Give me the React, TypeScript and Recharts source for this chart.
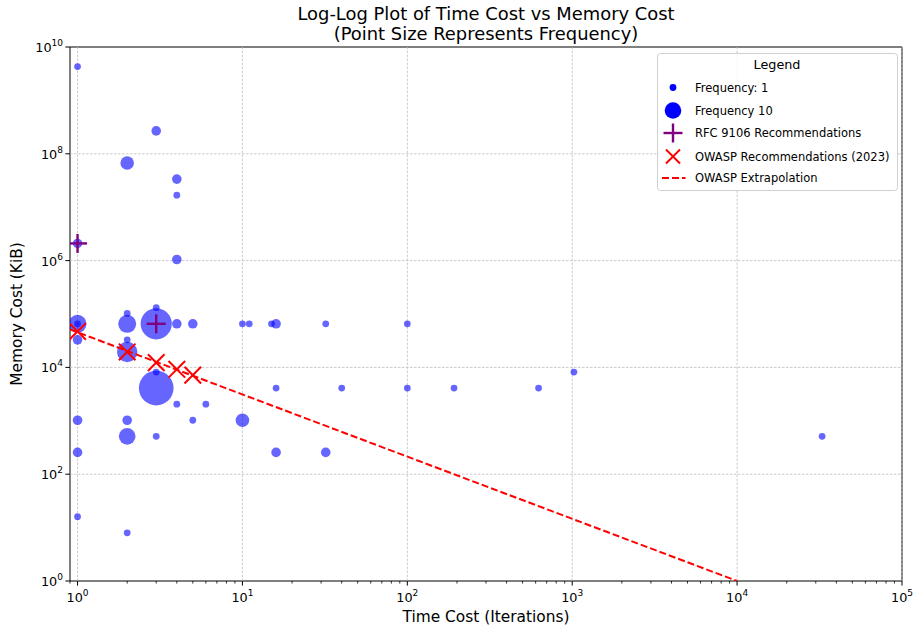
import React from "react"
import {
  ScatterChart,
  Scatter,
  XAxis,
  YAxis,
  ZAxis,
  ReferenceLine,
  ReferenceArea,
} from "recharts"

// observed parameter sets: time cost (iterations), memory cost (KiB), how often seen
const timeCost = [
  1, 3, 2, 4, 4, 1, 4, 2, 3, 1, 2, 3, 4, 5, 10, 11, 15, 16, 32, 100, 1, 1, 2, 2,
  3, 3, 16, 40, 100, 192, 625, 1024, 4, 6, 1, 2, 5, 10, 2, 3, 1, 16, 32, 1, 2, 32768,
]
const memoryCost = [
  4294967296, 268435456, 67108864, 33554432, 16777216, 2097152, 1048576, 102400,
  131072, 65536, 65536, 65536, 65536, 65536, 65536, 65536, 65536, 65536, 65536,
  65536, 65536, 32768, 32768, 19456, 8192, 4096, 4096, 4096, 4096, 4096, 4096,
  8192, 2048, 2048, 1024, 1024, 1024, 1024, 512, 512, 256, 256, 256, 16, 8, 512,
]
const frequency = [
  1, 2, 4, 2, 1, 2, 2, 1, 1, 7, 7, 21, 2, 2, 1, 1, 1, 2, 1, 1, 1, 2, 1, 9, 1, 26,
  1, 1, 1, 1, 1, 1, 1, 1, 2, 2, 1, 4, 6, 1, 2, 2, 2, 1, 1, 1,
]

const rfcTime = [1, 3]
const rfcMemory = [2097152, 65536]

const owaspTime = [1, 2, 3, 4, 5]
const owaspMemory = [47104, 19456, 12288, 9216, 7168]

const extrapTime = [0.9, 10000]
const extrapMemory = [51500, 1]

const xMajor = [1, 10, 100, 1000, 10000, 100000]
const xMinor = [0.9, 2, 3, 4, 5, 6, 7, 8, 9, 20, 30, 40, 50, 60, 70, 80, 90, 200, 300, 400, 500, 600, 700, 800, 900, 2000, 3000, 4000, 5000, 6000, 7000, 8000, 9000, 20000, 30000, 40000, 50000, 60000, 70000, 80000, 90000]
const yTicks = [1, 1e2, 1e4, 1e6, 1e8, 1e10]
const yGrid = [1e2, 1e4, 1e6, 1e8]

const points = timeCost.map((t, i) => ({ x: t, y: memoryCost[i], freq: frequency[i] }))
const rfc = rfcTime.map((t, i) => ({ x: t, y: rfcMemory[i] }))
const owasp = owaspTime.map((t, i) => ({ x: t, y: owaspMemory[i] }))
const extrap = extrapTime.map((t, i) => ({ x: t, y: extrapMemory[i] }))

const FONT = "'DejaVu Sans', sans-serif"
const GRID = "#bdbdbd"

const isMajor = (v: number) => Math.abs(Math.log10(v) - Math.round(Math.log10(v))) < 1e-6

const XTick = (props: any) => {
  const { x, y, payload } = props
  const v = payload.value
  const major = isMajor(v)
  return (
    <g>
      <line x1={x} x2={x} y1={y} y2={y + (major ? 4.6 : 2.6)} stroke="#000" strokeWidth={major ? 1 : 0.8} />
      {major && (
        <text x={x} y={y + 21} textAnchor="middle" fontSize={12.8} fontFamily={FONT} fill="#000">
          <tspan>10</tspan>
          <tspan dy={-6} fontSize={9}>{Math.round(Math.log10(v))}</tspan>
        </text>
      )}
    </g>
  )
}

const YTick = (props: any) => {
  const { x, y, payload } = props
  const v = payload.value
  return (
    <g>
      <line x1={x} x2={x - 4.6} y1={y} y2={y} stroke="#000" strokeWidth={1} />
      <text x={x - 7} y={y + 5} textAnchor="end" fontSize={12.8} fontFamily={FONT} fill="#000">
        <tspan>10</tspan>
        <tspan dy={-6} fontSize={9}>{Math.round(Math.log10(v))}</tspan>
      </text>
    </g>
  )
}

const Plus = (props: any) => {
  const { cx, cy } = props
  const h = 9.5
  return (
    <g stroke="#800080" strokeWidth={2.4}>
      <line x1={cx - h} x2={cx + h} y1={cy} y2={cy} />
      <line x1={cx} x2={cx} y1={cy - h} y2={cy + h} />
    </g>
  )
}

const Cross = (props: any) => {
  const { cx, cy } = props
  const h = 8.3
  return (
    <g stroke="#ff0000" strokeWidth={2}>
      <line x1={cx - h} x2={cx + h} y1={cy - h} y2={cy + h} />
      <line x1={cx - h} x2={cx + h} y1={cy + h} y2={cy - h} />
    </g>
  )
}

const Nothing = () => <g />

function LegendBox() {
  const mx = 16
  const tx = 38
  const rows = [34.5, 57.5, 80, 103.5, 125]
  return (
    <svg
      width={241}
      height={138}
      style={{ position: "absolute", left: 656.5, top: 52.5, pointerEvents: "none" }}
    >
      <rect x={0.5} y={0.5} width={240} height={137} rx={3} fill="rgba(255,255,255,0.8)" stroke="#d0d0d0" />
      <text x={120} y={15.5} textAnchor="middle" fontSize={12.8} fontFamily={FONT}>Legend</text>
      <circle cx={mx} cy={rows[0]} r={3.4} fill="#0000ff" />
      <circle cx={mx} cy={rows[1]} r={8.3} fill="#0000ff" />
      <g stroke="#800080" strokeWidth={2.4}>
        <line x1={mx - 9.5} x2={mx + 9.5} y1={rows[2]} y2={rows[2]} />
        <line x1={mx} x2={mx} y1={rows[2] - 9.5} y2={rows[2] + 9.5} />
      </g>
      <g stroke="#ff0000" strokeWidth={2}>
        <line x1={mx - 7} x2={mx + 7} y1={rows[3] - 7} y2={rows[3] + 7} />
        <line x1={mx - 7} x2={mx + 7} y1={rows[3] + 7} y2={rows[3] - 7} />
      </g>
      <line x1={5} x2={28.5} y1={rows[4]} y2={rows[4]} stroke="#ff0000" strokeWidth={2} strokeDasharray="7 3" />
      {["Frequency: 1", "Frequency 10", "RFC 9106 Recommendations", "OWASP Recommendations (2023)", "OWASP Extrapolation"].map((s, i) => (
        <text key={s} x={tx} y={rows[i] + 4.2} fontSize={11.5} fontFamily={FONT}>{s}</text>
      ))}
    </svg>
  )
}

export default function App() {
  return (
    <div style={{ position: "absolute", left: 0, top: 0, width: 914, height: 627, background: "#fff" }}>
      <ScatterChart width={914} height={627} margin={{ top: 47, right: 12, bottom: 0, left: 0 }}>
        <XAxis
          dataKey="x"
          type="number"
          scale="log"
          domain={[0.9, 100000]}
          allowDataOverflow
          ticks={[...xMajor, ...xMinor]}
          interval={0}
          height={46}
          tickSize={0}
          tickMargin={0}
          axisLine={false}
          tickLine={false}
          tick={<XTick />}
        />
        <YAxis
          dataKey="y"
          type="number"
          scale="log"
          domain={[1, 1e10]}
          allowDataOverflow
          ticks={yTicks}
          interval={0}
          width={70}
          tickSize={0}
          tickMargin={0}
          axisLine={false}
          tickLine={false}
          tick={<YTick />}
        />
        <ZAxis type="number" dataKey="freq" domain={[1, 26]} range={[36, 944]} />
        {xMajor.map((v) => (
          <ReferenceLine key={"gx" + v} x={v} stroke={GRID} strokeWidth={0.8} strokeDasharray="2.5 1.5" />
        ))}
        {yGrid.map((v) => (
          <ReferenceLine key={"gy" + v} y={v} stroke={GRID} strokeWidth={0.8} strokeDasharray="2.5 1.5" />
        ))}
        <Scatter data={points} fill="#0000ff" fillOpacity={0.6} isAnimationActive={false} />
        <Scatter data={rfc} shape={<Plus />} isAnimationActive={false} />
        <Scatter data={owasp} shape={<Cross />} isAnimationActive={false} />
        <Scatter
          data={extrap}
          shape={<Nothing />}
          line={{ stroke: "#ff0000", strokeWidth: 2, strokeDasharray: "7 3" }}
          isAnimationActive={false}
        />
        <ReferenceArea x1={0.9} x2={100000} y1={1} y2={1e10} fill="none" stroke="#000" strokeWidth={1} />
      </ScatterChart>
      <svg width={914} height={627} style={{ position: "absolute", left: 0, top: 0, pointerEvents: "none" }}>
        <text x={486} y={20} textAnchor="middle" fontSize={17.9} fontFamily={FONT}>
          Log-Log Plot of Time Cost vs Memory Cost
        </text>
        <text x={486} y={40} textAnchor="middle" fontSize={17.9} fontFamily={FONT}>
          (Point Size Represents Frequency)
        </text>
        <text x={486} y={622} textAnchor="middle" fontSize={15.4} fontFamily={FONT}>
          Time Cost (Iterations)
        </text>
        <text x={22} y={314} textAnchor="middle" fontSize={15.4} fontFamily={FONT} transform="rotate(-90 22 314)">
          Memory Cost (KiB)
        </text>
      </svg>
      <LegendBox />
    </div>
  )
}
